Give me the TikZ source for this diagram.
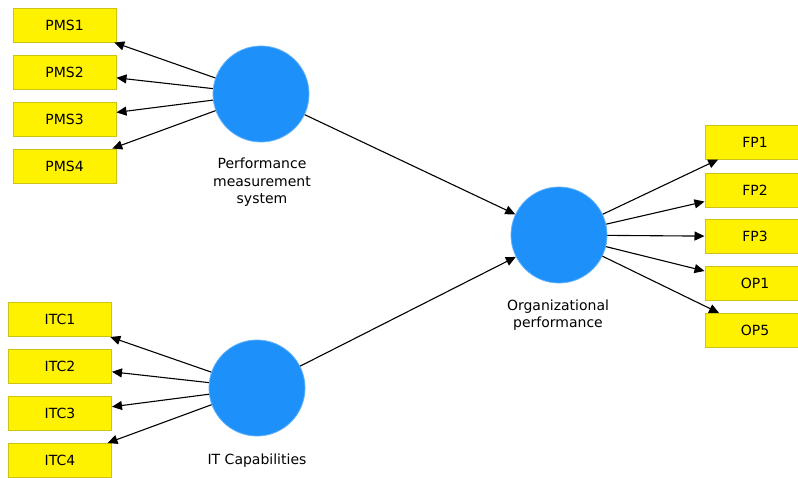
\documentclass[tikz,border=0pt]{standalone}
\usepackage{fontspec}
\setmainfont{DejaVu Sans}
\usetikzlibrary{arrows.meta}
\definecolor{lvblue}{RGB}{30,144,250}
\definecolor{indyellow}{RGB}{255,242,0}
\definecolor{indborder}{RGB}{205,195,20}
\tikzset{
  indbox/.style={draw=indborder, fill=indyellow, line width=1pt, minimum width=103pt, minimum height=34pt, inner sep=0pt, font=\fontsize{14}{16}\selectfont},
  latent/.style={circle, fill=lvblue, draw=lvblue!70!white, line width=0.8pt, minimum size=96pt, inner sep=0pt},
  lbl/.style={align=center, font=\fontsize{14}{17.5}\selectfont, inner sep=0pt},
  arr/.style={draw=black, line width=1.1pt, -{Triangle[length=10pt,width=9pt]}}
}
\begin{document}
\begin{tikzpicture}[x=1pt,y=-1pt]
\useasboundingbox (0,0) rectangle (798,477);
\clip (0,0) rectangle (798,477);
% latent variables
\node[latent] (pms) at (261,94) {};
\node[latent] (itc) at (257,388) {};
\node[latent] (op) at (559,235) {};
% labels
\node[lbl] (pmslbl) at (262,182.5) {Performance\\measurement\\system};
\node[lbl] (itclbl) at (257,461) {IT Capabilities};
\node[lbl] (oplbl) at (558,315) {Organizational\\performance};
% indicators
\node[indbox] (pms1) at (64.5,25) {PMS1};
\node[indbox] (pms2) at (64.5,72) {PMS2};
\node[indbox] (pms3) at (64.5,119) {PMS3};
\node[indbox] (pms4) at (64.5,166) {PMS4};
\node[indbox] (itc1) at (60,319.5) {ITC1};
\node[indbox] (itc2) at (60,366) {ITC2};
\node[indbox] (itc3) at (60,413.5) {ITC3};
\node[indbox] (itc4) at (60,460.5) {ITC4};
\node[indbox, minimum width=100pt] (fp1) at (755,142) {FP1};
\node[indbox, minimum width=100pt] (fp2) at (755,190) {FP2};
\node[indbox, minimum width=100pt] (fp3) at (755,236.5) {FP3};
\node[indbox, minimum width=100pt] (op1) at (755,283.5) {OP1};
\node[indbox, minimum width=100pt] (op5) at (755,330.5) {OP5};
% connectors
\foreach \t in {pms1,pms2,pms3,pms4} \draw[arr] (pms) -- (\t);
\foreach \t in {itc1,itc2,itc3,itc4} \draw[arr] (itc) -- (\t);
\foreach \t in {fp1,fp2,fp3,op1,op5} \draw[arr] (op) -- (\t);
\draw[arr] (pms) -- (op);
\draw[arr] (itc) -- (op);
\end{tikzpicture}
\end{document}
